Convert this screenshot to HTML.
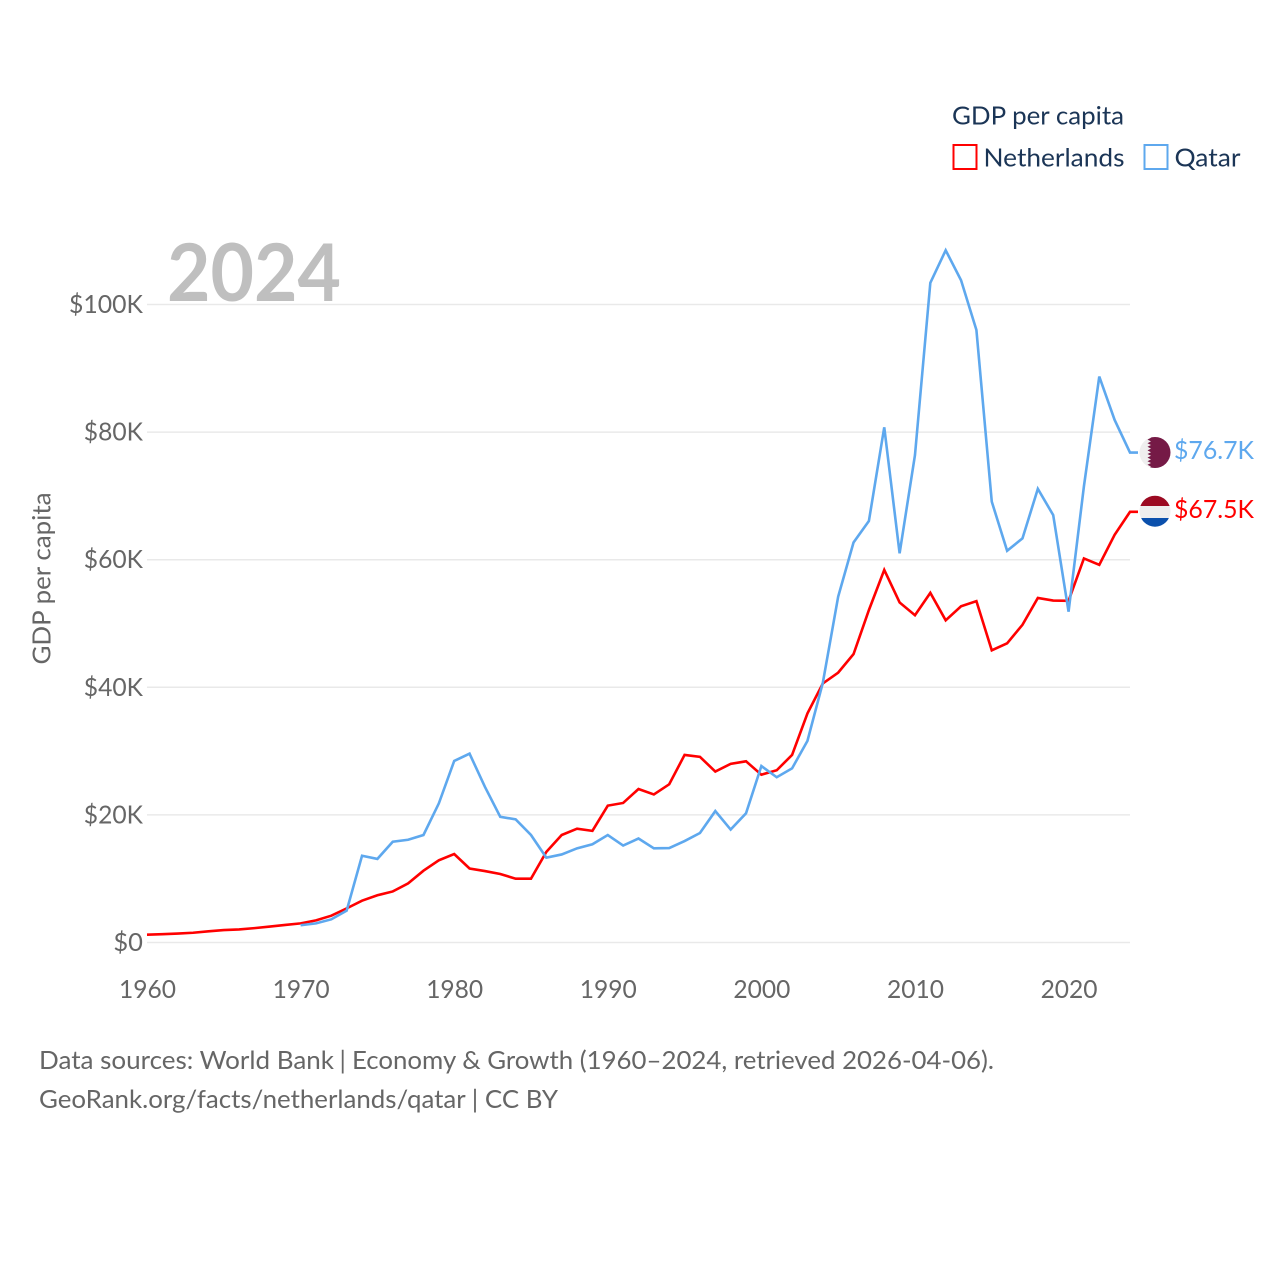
<!DOCTYPE html>
<html lang="en">
<head>
<meta charset="utf-8">
<title>GDP per capita: Netherlands vs Qatar</title>
<style>
html,body{margin:0;padding:0;background:#fff;width:1280px;height:1280px;overflow:hidden}
svg{display:block}
text{font-family:"Lato","Carlito","Liberation Sans",sans-serif}
</style>
</head>
<body>
<svg id="chart" xmlns="http://www.w3.org/2000/svg" width="1280" height="1280" viewBox="0 0 1280 1280">
  <rect x="0" y="0" width="1280" height="1280" fill="#ffffff"/>
  <defs>
    <clipPath id="flag-clip-qa"><circle cx="1155" cy="452.5" r="15.5"/></clipPath>
    <clipPath id="flag-clip-nl"><circle cx="1155" cy="511.2" r="15.5"/></clipPath>
  </defs>
  <g id="grid"></g>
  <text x="167" y="301" font-size="80" font-weight="700" fill="#bfbfbf" textLength="174" lengthAdjust="spacingAndGlyphs">2024</text>
  <g id="yticks"></g>
  <g id="xticks"></g>
  <text transform="translate(50.5,578.5) rotate(-90)" text-anchor="middle" font-size="25.5" fill="#666666" textLength="172" lengthAdjust="spacingAndGlyphs">GDP per capita</text>
  <g id="series"></g>

  <g>
    <text x="952" y="124.5" font-size="25.5" fill="#1b3556" textLength="172" lengthAdjust="spacingAndGlyphs">GDP per capita</text>
    <rect x="953.5" y="145" width="23" height="24" fill="none" stroke="#ff0000" stroke-width="2"/>
    <text x="983.5" y="166.5" font-size="25.5" fill="#1b3556" textLength="141" lengthAdjust="spacingAndGlyphs">Netherlands</text>
    <rect x="1144.5" y="145" width="23" height="24" fill="none" stroke="#5ea8ee" stroke-width="2"/>
    <text x="1174.5" y="166.5" font-size="25.5" fill="#1b3556" textLength="66" lengthAdjust="spacingAndGlyphs">Qatar</text>
  </g>

  <g clip-path="url(#flag-clip-qa)">
    <rect x="1139" y="436" width="32" height="33" fill="#efefef"/>
    <polygon fill="#751a46" points="1171,436 1147.5,436 1151,437.8 1147.5,439.6 1151,441.4 1147.5,443.2 1151,445 1147.5,446.8 1151,448.6 1147.5,450.4 1151,452.2 1147.5,454 1151,455.8 1147.5,457.6 1151,459.4 1147.5,461.2 1151,463 1147.5,464.8 1151,466.6 1147.5,468.4 1171,469"/>
  </g>
  <g clip-path="url(#flag-clip-nl)">
    <rect x="1139" y="495" width="32" height="11" fill="#9c0a22"/>
    <rect x="1139" y="506" width="32" height="12" fill="#eeeeee"/>
    <rect x="1139" y="518" width="32" height="10" fill="#0b50ac"/>
  </g>
  <g id="endlabels"></g>

  <text y="1069" font-size="25.5" fill="#666666"><tspan x="39" textLength="295" lengthAdjust="spacingAndGlyphs">Data sources: World Bank</tspan><tspan x="339.5">|</tspan><tspan x="352" textLength="642" lengthAdjust="spacingAndGlyphs">Economy &amp; Growth (1960–2024, retrieved 2026-04-06).</tspan></text>
  <text x="39" y="1108" font-size="25.5" fill="#666666" textLength="519" lengthAdjust="spacingAndGlyphs">GeoRank.org/facts/netherlands/qatar | CC BY</text>
</svg>
<script>
const startYear = 1960;
const endYear = 2024;
const xTickYears = [1960, 1970, 1980, 1990, 2000, 2010, 2020];
const yTickValues = [0, 20, 40, 60, 80, 100];
const netherlandsValues = [1.22,1.3,1.4,1.53,1.75,1.95,2.05,2.25,2.5,2.75,3.0,3.47,4.2,5.35,6.55,7.4,8.0,9.27,11.25,12.88,13.87,11.6,11.2,10.74,10.0,10.0,14.2,16.85,17.84,17.5,21.45,21.87,24.06,23.2,24.8,29.4,29.1,26.8,28.0,28.4,26.3,27.0,29.4,35.9,40.6,42.3,45.2,52.1,58.4,53.3,51.3,54.8,50.5,52.7,53.5,45.8,46.9,49.8,54.0,53.6,53.55,60.2,59.2,63.9,67.5];
const qatarValues = [null,null,null,null,null,null,null,null,null,null,2.7,3.0,3.63,5.0,13.6,13.1,15.8,16.1,16.85,21.8,28.45,29.6,24.4,19.7,19.3,16.85,13.3,13.8,14.76,15.4,16.85,15.2,16.3,14.76,14.8,15.9,17.16,20.6,17.7,20.25,27.66,25.9,27.3,31.6,40.7,54.2,62.7,66.06,80.75,61.0,76.4,103.4,108.5,103.8,96.0,69.1,61.4,63.35,71.1,67.0,51.85,71.5,88.7,81.9,76.8];
const endLabelNetherlands = "$67.5K";
const endLabelQatar = "$76.7K";

const NS = "http://www.w3.org/2000/svg";
const plotLeft = 147, plotRight = 1130, zeroY = 942.5, hundredY = 304.5;
function xScale(year) { return plotLeft + (year - startYear) * (plotRight - plotLeft) / (endYear - startYear); }
function yScale(v) { return zeroY - v * (zeroY - hundredY) / 100; }
function make(tag, attrs, text) {
  const el = document.createElementNS(NS, tag);
  for (const k in attrs) el.setAttribute(k, attrs[k]);
  if (text !== undefined) el.textContent = text;
  return el;
}
const grid = document.getElementById("grid");
const yticks = document.getElementById("yticks");
const xticks = document.getElementById("xticks");
const series = document.getElementById("series");
const endlabels = document.getElementById("endlabels");

yTickValues.forEach(function (v) {
  const line = make("line", {x1: plotLeft, x2: plotRight, y1: yScale(v), y2: yScale(v), stroke: "#e9e9e9", "stroke-width": 1.5});
  
  
  grid.appendChild(line);
  const label = v === 0 ? "$0" : "$" + v + "K";
  const t = make("text", {x: 143, y: yScale(v) + 8.5, "text-anchor": "end", "font-size": 25.5, fill: "#666666", textLength: label.length * 14.8, lengthAdjust: "spacingAndGlyphs"}, label);
  
  
  yticks.appendChild(t);
});
xTickYears.forEach(function (y) {
  const t = make("text", {x: xScale(y) + 0.5, y: 998, "text-anchor": "middle", "font-size": 25.5, fill: "#666666", textLength: 57, lengthAdjust: "spacingAndGlyphs"}, String(y));
  
  
  xticks.appendChild(t);
});
function pathFor(values) {
  let d = "", last = null;
  values.forEach(function (v, i) {
    if (v === null) return;
    const x = xScale(startYear + i), y = yScale(v);
    d += (d ? "L" : "M") + x.toFixed(2) + " " + y.toFixed(2);
    last = y;
  });
  return d + "L1138 " + last.toFixed(2);
}
const qatarLine = make("path", {d: pathFor(qatarValues), fill: "none", stroke: "#5ea8ee", "stroke-width": 2.6, "stroke-linejoin": "miter"});


const nlLine = make("path", {d: pathFor(netherlandsValues), fill: "none", stroke: "#ff0000", "stroke-width": 2.6, "stroke-linejoin": "miter"});


series.appendChild(nlLine);
series.appendChild(qatarLine);

const qaLabel = make("text", {x: 1174, y: 459, "font-size": 25.5, fill: "#5ea8ee", textLength: 80, lengthAdjust: "spacingAndGlyphs"}, endLabelQatar);


endlabels.appendChild(qaLabel);
const nlLabel = make("text", {x: 1174, y: 518, "font-size": 25.5, fill: "#ff0000", textLength: 80, lengthAdjust: "spacingAndGlyphs"}, endLabelNetherlands);


endlabels.appendChild(nlLabel);
</script>
</body>
</html>
